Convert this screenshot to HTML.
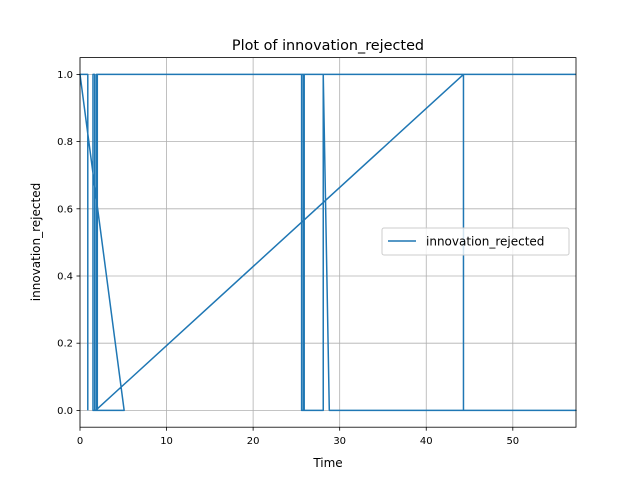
<!DOCTYPE html>
<html><head><meta charset="utf-8"><style>
body{margin:0;background:#fff;font-family:"Liberation Sans","DejaVu Sans",sans-serif}
</style></head><body>
<svg id="chart" width="640" height="480" xmlns="http://www.w3.org/2000/svg" font-family="DejaVu Sans, Liberation Sans, sans-serif">
<rect width="640" height="480" fill="#fff"/>
<g id="grid"></g>
<g id="series"></g>
<rect x="80" y="57.6" width="496" height="369.6" fill="none" stroke="#000" stroke-width="0.8"/>
<g id="ticks"></g>
<text x="328" y="50" text-anchor="middle" font-size="14.4">Plot of innovation_rejected</text>
<text x="328" y="467" text-anchor="middle" font-size="12">Time</text>
<text x="40" y="242" text-anchor="middle" font-size="12" transform="rotate(-90 40 242)">innovation_rejected</text>
<g>
<rect x="382" y="228" width="187" height="27" rx="2" fill="#fff" fill-opacity="0.8" stroke="#ccc"/>
<line x1="388" y1="241" x2="416" y2="241" stroke="#1f77b4" stroke-width="1.5"/>
<text x="426" y="245.5" font-size="12">innovation_rejected</text>
</g>
</svg>
<script>
const times=[0.9,0.9,0,5.1,1.5,1.5,1.7,1.7,1.8,44.3,44.3,57.3,28.8,28.1,28.1,25.9,25.9,25.6,25.6,25.8,25.8,2.0,2.0,1.9,1.9,57.3];
const values=[0,1,1,0,0,1,1,0,0,1,0,0,0,1,0,0,1,1,0,0,1,1,0,0,1,1];
const xTicks=[0,10,20,30,40,50];
const yTicks=[0,0.2,0.4,0.6,0.8,1.0];
const yTickLabels=["0.0","0.2","0.4","0.6","0.8","1.0"];
const X0=80,X1=576,Y0=427.2,Y1=57.6,xmin=0,xmax=57.3,ymin=-0.05,ymax=1.05;
const sx=v=>X0+(v-xmin)/(xmax-xmin)*(X1-X0);
const sy=v=>Y0-(v-ymin)/(ymax-ymin)*(Y0-Y1);
const NS="http://www.w3.org/2000/svg";
const grid=document.getElementById('grid'),ticks=document.getElementById('ticks'),series=document.getElementById('series');
function mk(tag,attrs,parent){const e=document.createElementNS(NS,tag);for(const k in attrs)e.setAttribute(k,attrs[k]);parent.appendChild(e);return e;}
xTicks.forEach(t=>{const x=sx(t);
 const g=mk('line',{x1:x,x2:x,y1:Y1,y2:Y0,stroke:'#b0b0b0','stroke-width':0.8},grid);
 
 
 const tk=mk('line',{x1:x,x2:x,y1:Y0,y2:Y0+3.5,stroke:'#000','stroke-width':0.8},ticks);
 
 
 const tx=mk('text',{x:x,y:Y0+17,'text-anchor':'middle','font-size':10},ticks);tx.textContent=t;
 
 
});
yTicks.forEach((t,i)=>{const y=sy(t);
 const g=mk('line',{x1:X0,x2:X1,y1:y,y2:y,stroke:'#b0b0b0','stroke-width':0.8},grid);
 
 
 const tk=mk('line',{x1:X0-3.5,x2:X0,y1:y,y2:y,stroke:'#000','stroke-width':0.8},ticks);
 
 
 const tx=mk('text',{x:X0-7,y:y+3.5,'text-anchor':'end','font-size':10},ticks);tx.textContent=yTickLabels[i];
 
 
});
const d=times.map((t,i)=>(i?'L':'M')+sx(t).toFixed(2)+','+sy(values[i]).toFixed(2)).join(' ');
const p=mk('path',{d:d,fill:'none',stroke:'#1f77b4','stroke-width':1.5,'stroke-linejoin':'round'},series);


</script>
</body></html>
